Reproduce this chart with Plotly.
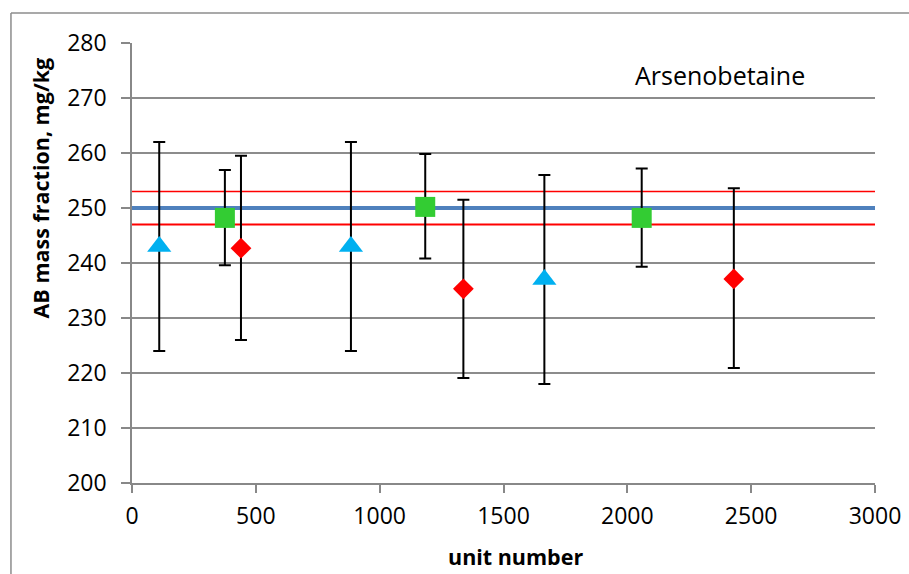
import plotly.graph_objects as go

# ---- data ----
tri_x = [110, 884, 1665]
tri_y = [243.0, 243.0, 237.0]
tri_hi = [262.0, 262.0, 256.0]
tri_lo = [224.0, 224.0, 218.0]

sq_x = [375, 1184, 2058]
sq_y = [248.2, 250.2, 248.2]
sq_hi = [256.9, 259.8, 257.2]
sq_lo = [239.6, 240.8, 239.3]

dia_x = [440, 1338, 2430]
dia_y = [242.7, 235.3, 237.1]
dia_hi = [259.5, 251.5, 253.6]
dia_lo = [226.0, 219.1, 220.9]

line_x = [0, 3000]
mean_val = 250.0
upper_val = 253.0
lower_val = 247.0

x_ticks = [0, 500, 1000, 1500, 2000, 2500, 3000]
y_ticks = [200, 210, 220, 230, 240, 250, 260, 270, 280]

FONT = "Open Sans"

fig = go.Figure()

fig.add_trace(go.Scatter(x=line_x, y=[upper_val] * 2, mode="lines",
                         line=dict(color="#ff0000", width=1.6), showlegend=False))
fig.add_trace(go.Scatter(x=line_x, y=[lower_val] * 2, mode="lines",
                         line=dict(color="#ff0000", width=2), showlegend=False))
fig.add_trace(go.Scatter(x=line_x, y=[mean_val] * 2, mode="lines",
                         line=dict(color="#4f81bd", width=4), showlegend=False))


def err(vals, hi, lo):
    return dict(type="data", symmetric=False,
                array=[h - v for h, v in zip(hi, vals)],
                arrayminus=[v - l for v, l in zip(vals, lo)],
                color="black", thickness=2, width=6)


fig.add_trace(go.Scatter(x=tri_x, y=tri_y, mode="markers",
                         marker=dict(symbol="triangle-up", size=21, color="#00b0f0", line=dict(width=0)),
                         error_y=err(tri_y, tri_hi, tri_lo), showlegend=False))
fig.add_trace(go.Scatter(x=sq_x, y=sq_y, mode="markers",
                         marker=dict(symbol="square", size=20, color="#33cc33", line=dict(width=0)),
                         error_y=err(sq_y, sq_hi, sq_lo), showlegend=False))
fig.add_trace(go.Scatter(x=dia_x, y=dia_y, mode="markers",
                         marker=dict(symbol="diamond", size=16, color="#ff0000", line=dict(width=0)),
                         error_y=err(dia_y, dia_hi, dia_lo), showlegend=False))

fig.update_layout(
    width=909, height=574,
    margin=dict(l=132, r=34, t=43, b=91),
    paper_bgcolor="white", plot_bgcolor="white",
    font=dict(family=FONT, size=23, color="black"),
    xaxis=dict(range=[0, 3000], tickvals=x_ticks, ticktext=[str(v) for v in x_ticks],
               showgrid=False, zeroline=False, showline=True, linecolor="#888888", linewidth=1.5,
               ticks="outside", ticklen=8, tickcolor="#888888", tickwidth=1.5,
               ticklabelstandoff=4, tickfont=dict(size=23), automargin=False),
    yaxis=dict(range=[200, 280], tickvals=y_ticks, ticktext=[str(v) for v in y_ticks],
               showgrid=True, gridcolor="#8c8c8c", gridwidth=1.5, zeroline=False,
               showline=True, linecolor="#888888", linewidth=1.5,
               ticks="outside", ticklen=9, tickcolor="#888888", tickwidth=1.5,
               ticklabelstandoff=10, tickfont=dict(size=23), automargin=False),
    annotations=[
        dict(text="Arsenobetaine", xref="paper", yref="paper", x=0.7914, y=0.927,
             showarrow=False, font=dict(size=25), xanchor="center", yanchor="middle"),
        dict(text="<b>AB mass fraction, mg/kg</b>", xref="paper", yref="paper",
             x=-0.1225, y=0.6716, textangle=-90, showarrow=False,
             font=dict(size=21.5), xanchor="center", yanchor="middle"),
        dict(text="<b>unit number</b>", xref="paper", yref="paper",
             x=0.516, y=-0.166, showarrow=False,
             font=dict(size=21.5), xanchor="center", yanchor="middle"),
    ],
    shapes=[
        dict(type="line", xref="paper", yref="paper", x0=-0.1629, x1=-0.1629, y0=-0.4, y1=1.0682,
             line=dict(color="#8c8c8c", width=1.5)),
        dict(type="line", xref="paper", yref="paper", x0=-0.1629, x1=1.2, y0=1.0682, y1=1.0682,
             line=dict(color="#8c8c8c", width=1.5)),
    ],
)

fig.write_html("out.html")
